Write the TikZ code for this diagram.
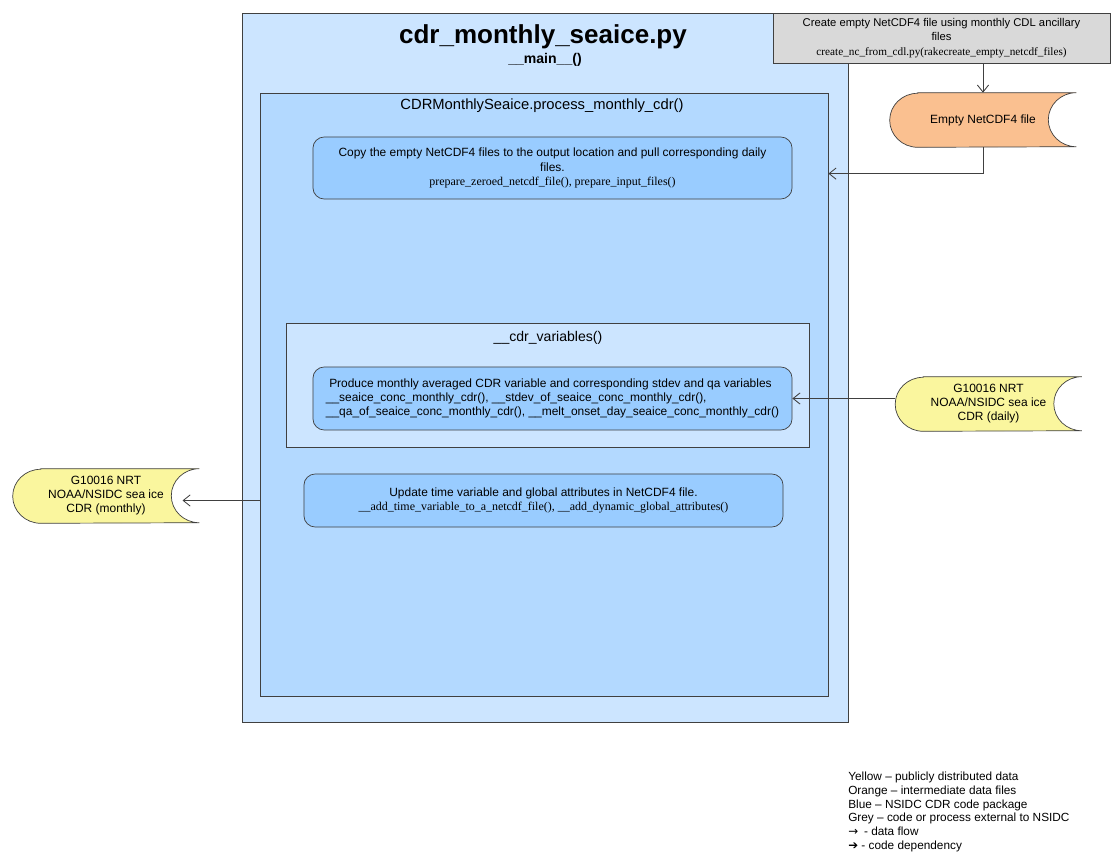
\documentclass[tikz,border=0pt]{standalone}
\usepackage{fontspec}
\setmainfont{Liberation Sans}
\newfontfamily\codefont{Liberation Serif}
\newfontfamily\symbolfont{DejaVu Sans}
\usetikzlibrary{arrows.meta,backgrounds}

\definecolor{mainblue}{RGB}{204,229,255}
\definecolor{procblue}{RGB}{179,217,255}
\definecolor{taskblue}{RGB}{153,204,255}
\definecolor{extgrey}{RGB}{217,217,217}
\definecolor{fileorange}{RGB}{250,192,144}
\definecolor{pubyellow}{RGB}{250,246,158}

% stored-data outline round a named node
\newcommand{\datastore}[2]{%
    \begin{scope}[on background layer]
        \filldraw[fill=#2, draw=black!75, line width=0.5pt]
            ([xshift=0.7cm]#1.north west) -- (#1.north east)
            arc[start angle=90, end angle=270, x radius=0.7cm, y radius=0.675cm]
            -- ([xshift=0.7cm]#1.south west)
            arc[start angle=270, end angle=90, x radius=0.7cm, y radius=0.675cm]
            -- cycle;
    \end{scope}}

\begin{document}
\begin{tikzpicture}[x=0.025cm, y=-0.025cm,
    container/.style={draw=black!75, line width=0.5pt, inner sep=0pt},
    task/.style={draw=black!75, line width=0.5pt, fill=taskblue, rounded corners=8pt,
        minimum width=11.975cm, inner sep=2pt, align=center,
        font=\fontsize{8.5}{10.2}\selectfont},
    store/.style={minimum width=4.65cm, minimum height=1.35cm, inner sep=0pt,
        align=center, font=\fontsize{8.5}{10}\selectfont},
    flow/.style={draw=black!75, line width=0.6pt, -{Straight Barb[length=5pt,width=8pt]}}]

    \useasboundingbox (0,0) rectangle (1112,852);

    %----- CONTAINERS -----
    \node[container, fill=mainblue, minimum width=15.15cm, minimum height=17.725cm]
        (main) at (545,367.5) {};
    \node[container, fill=procblue, minimum width=14.2cm, minimum height=15.075cm]
        (process) at (544,394.5) {};
    \node[container, fill=mainblue, minimum width=13.075cm, minimum height=3.1cm]
        (vars) at (547.5,385) {};

    %----- TITLES -----
    \node[font=\fontsize{18.5}{21}\selectfont\bfseries] (title) at (543,37) {cdr\_monthly\_seaice.py};
    \node[font=\fontsize{10}{12}\selectfont\bfseries] (mainfn) at (545,60) {\_\_main\_\_()};
    \node[font=\fontsize{10.5}{12}\selectfont] (processfn) at (542,106) {CDRMonthlySeaice.process\_monthly\_cdr()};
    \node[font=\fontsize{10}{12}\selectfont] (varsfn) at (548,338) {\_\_cdr\_variables()};

    %----- TASKS -----
    \node[task, minimum height=1.55cm] (copy) at (552.5,168)
        {Copy the empty NetCDF4 files to the output location and pull corresponding daily\\
         files.\\
         {\codefont prepare\_zeroed\_netcdf\_file(), prepare\_input\_files()}};
    \node[task, minimum height=1.575cm, align=left] (produce) at (552.5,398.5)
        {\ Produce monthly averaged CDR variable and corresponding stdev and qa variables\\
         \_\_seaice\_conc\_monthly\_cdr(), \_\_stdev\_of\_seaice\_conc\_monthly\_cdr(),\\
         \_\_qa\_of\_seaice\_conc\_monthly\_cdr(), \_\_melt\_onset\_day\_seaice\_conc\_monthly\_cdr()};
    \node[task, minimum height=1.325cm] (update) at (543.5,500.5)
        {Update time variable and global attributes in NetCDF4 file.\\
         {\codefont \_\_add\_time\_variable\_to\_a\_netcdf\_file(), \_\_add\_dynamic\_global\_attributes()}};

    %----- EXTERNAL STEP -----
    \node[draw=black!75, line width=0.5pt, fill=extgrey, minimum width=8.425cm, minimum height=1.25cm,
        inner sep=1pt, align=center, font=\fontsize{8}{10.3}\selectfont] (grey) at (941.5,38)
        {Create empty NetCDF4 file using monthly CDL ancillary\\
         files\\
         {\codefont create\_nc\_from\_cdl.py(rakecreate\_empty\_netcdf\_files)}};

    %----- DATA FILES -----
    \node[store] (empty) at (983,120) {Empty NetCDF4 file};
    \datastore{empty}{fileorange}
    \node[store] (daily) at (988.5,404) {G10016 NRT\\ NOAA/NSIDC sea ice\\ CDR (daily)};
    \datastore{daily}{pubyellow}
    \node[store] (monthly) at (106,496) {G10016 NRT\\ NOAA/NSIDC sea ice\\ CDR (monthly)};
    \datastore{monthly}{pubyellow}

    %----- DATA FLOW -----
    \draw[flow] (empty.north |- grey.south) -- (empty.north);
    \draw[flow] (empty.south) |- ([yshift=-4pt]process.east |- copy.east);
    \draw[flow] (daily.west |- produce.east) -- (produce.east);
    \draw[flow] (process.west |- update.west) -- ([xshift=-0.42cm]monthly.east |- update.west);

    %----- LEGEND -----
    \node[anchor=north west, align=left, inner sep=0pt, font=\fontsize{8.4}{9.7}\selectfont]
        (legend) at (848,772)
        {Yellow -- publicly distributed data\\
         Orange -- intermediate data files\\
         Blue -- NSIDC CDR code package\\
         Grey -- code or process external to NSIDC\\
         {\symbolfont →}\enspace - data flow\\
         {\symbolfont ➔}\ - code dependency};

\end{tikzpicture}
\end{document}
